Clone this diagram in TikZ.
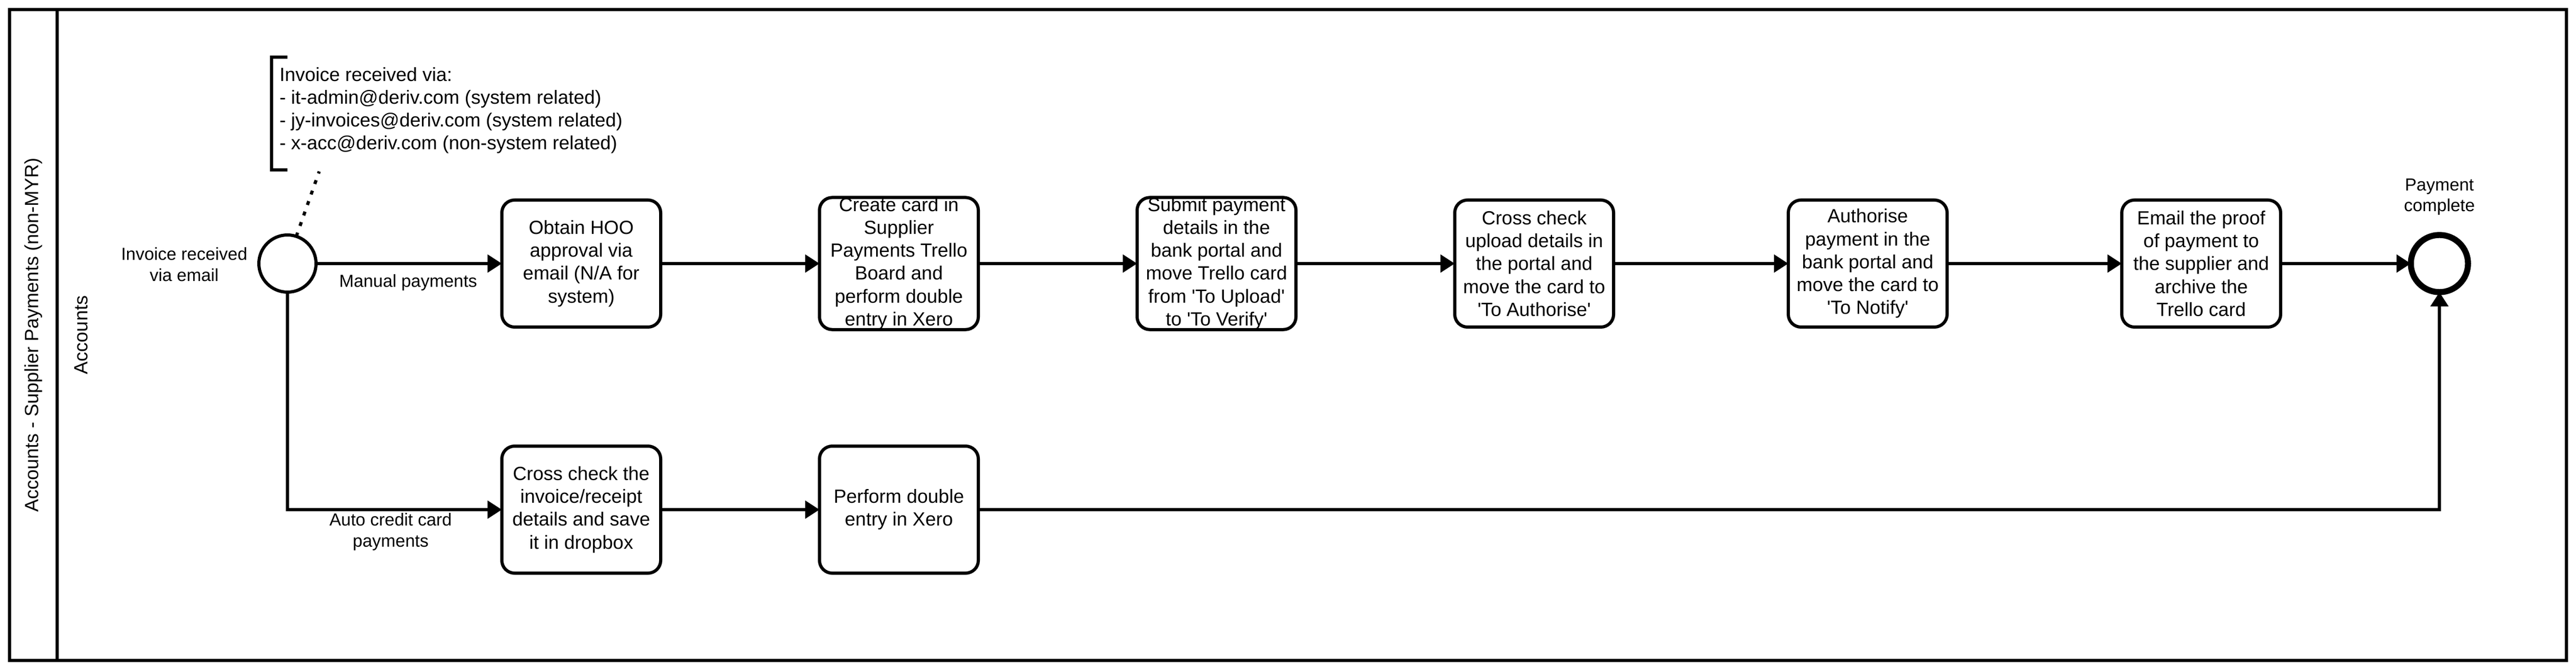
\documentclass[tikz,border=0pt]{standalone}
\usepackage{fontspec}
\setmainfont{Liberation Sans}[Ligatures=TeXOff]
\usetikzlibrary{arrows.meta,calc}
\begin{document}
\begin{tikzpicture}[x=1pt,y=-1pt,
  every node/.style={font=\fontsize{12}{14.4}\selectfont, inner sep=0pt, outer sep=0pt},
  task/.style={draw, line width=2pt, rounded corners=8pt, minimum width=100pt, minimum height=80pt, align=center},
  lbl/.style={font=\fontsize{11}{13.2}\selectfont, align=center},
  flow/.style={line width=2pt, -{Triangle[length=9pt,width=11pt]}},
  startev/.style={draw, circle, line width=2pt, minimum size=36pt},
  endev/.style={draw, circle, line width=3.8pt, minimum size=36pt},
  assoc/.style={line width=2pt, dash pattern=on 2.5pt off 4.5pt},
  frame/.style={line width=2pt}
]
\useasboundingbox[fill=white] (0,0) rectangle (1622,422);
% pool and lane
\draw[frame] (6,6) rectangle (1616,416);
\draw[frame] (36,6) -- (36,416);
\node[rotate=90] (pooltitle) at (21,211) {Accounts - Supplier Payments (non-MYR)};
\node[rotate=90] (lanetitle) at (51,211) {Accounts};

% events
\node[startev] (start) at (181,166) {};
\node[lbl, anchor=center] (startlbl) at (116,166.5) {Invoice received\\via email};
\node[endev] (end) at (1536,166) {};
\node[lbl] (endlbl) at (1536,124) {Payment\\complete};

% tasks
\node[task] (t1) at (366,166) {Obtain HOO\\approval via\\email (N/A for\\system)};
\node[task] (t2) at (566,166) {Create card in\\Supplier\\Payments Trello\\Board and\\perform double\\entry in Xero};
\node[task] (t3) at (766,166) {Submit payment\\details in the\\bank portal and\\move Trello card\\from 'To Upload'\\to 'To Verify'};
\node[task] (t4) at (966,166) {Cross check\\upload details in\\the portal and\\move the card to\\'To Authorise'};
\node[task] (t5) at (1176,166) {Authorise\\payment in the\\bank portal and\\move the card to\\'To Notify'};
\node[task] (t6) at (1386,166) {Email the proof\\of payment to\\the supplier and\\archive the\\Trello card};
\node[task] (b1) at (366,321) {Cross check the\\invoice/receipt\\details and save\\it in dropbox};
\node[task] (b2) at (566,321) {Perform double\\entry in Xero};

% annotation
\node[anchor=west, align=left] (note) at (176,69.5) {Invoice received via:\\- it-admin@deriv.com (system related)\\- jy-invoices@deriv.com (system related)\\- x-acc@deriv.com (non-system related)};
\draw[line width=2pt] (181,36) -- (171,36) -- (171,107) -- (181,107);
\coordinate (noteend) at (201,108);
\draw[assoc] (start.72) -- (noteend);

% flows
\draw[flow] (start) -- (t1);
\draw[flow] (t1) -- (t2);
\draw[flow] (t2) -- (t3);
\draw[flow] (t3) -- (t4);
\draw[flow] (t4) -- (t5);
\draw[flow] (t5) -- (t6);
\draw[flow] (t6) -- (end);
\draw[flow] (start.south) |- (b1.west);
\draw[flow] (b1) -- (b2);
\draw[flow] (b2.east) -| (end.south);

% flow labels
\node[lbl] (manlbl) at (257,178) {Manual payments};
\node[lbl] (autolbl) at (246,335) {Auto credit card\\payments};
\end{tikzpicture}
\end{document}
